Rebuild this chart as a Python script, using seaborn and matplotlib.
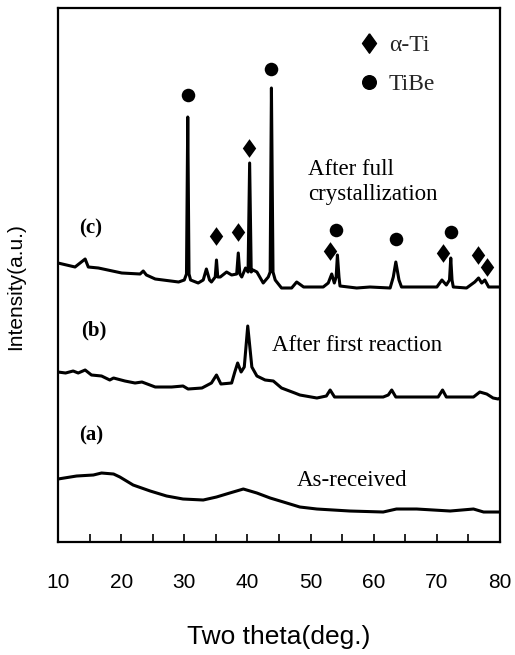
import numpy as np
import pandas as pd
import matplotlib
matplotlib.use("Agg")
import matplotlib.pyplot as plt
from matplotlib.lines import Line2D
import seaborn as sns

# ---- data (two theta in deg, intensity in arbitrary units) ----
c_theta = [10.0, 12.7, 14.3, 14.8, 16.4, 20.1, 23.0, 23.5, 24.0, 25.4, 29.1, 30.0,
           30.35, 30.55, 30.75, 31.0, 32.2, 33.0, 33.5, 34.0, 34.3, 34.9, 35.1, 35.3, 35.7,
           36.7, 37.5, 38.3, 38.55, 38.8, 39.1, 39.7, 40.1, 40.35, 40.6, 40.9, 41.5,
           42.5, 43.3, 43.6, 43.8, 44.05, 44.4, 45.4, 47.0, 47.8, 48.9, 52.0, 52.8,
           53.35, 53.76, 54.05, 54.25, 54.5, 54.66, 57.3, 59.4, 62.6, 63.1, 63.5, 64.0,
           64.4, 67.9, 70.0, 70.8, 71.5, 72.0, 72.2, 72.4, 72.6, 74.7, 76.0, 76.6,
           77.1, 77.6, 78.2, 79.5, 80.0]
c_int = [279, 275, 283, 275, 274, 269, 268, 271, 267, 263, 260, 262,
         268, 425, 268, 262, 259, 262, 273, 262, 260, 265, 282, 265, 265,
         270, 267, 268, 289, 268, 265, 274, 270, 379, 270, 272, 270,
         259, 265, 270, 454, 270, 262, 254, 254, 260, 255, 255, 259,
         268, 259, 265, 287, 265, 256, 254, 255, 254, 265, 280, 262,
         255, 255, 255, 262, 257, 262, 284, 262, 255, 254, 260, 264,
         259, 262, 255, 255, 255]

b_theta = [10.0, 11.2, 12.4, 13.2, 14.3, 15.3, 16.9, 18.2, 18.8, 20.6, 22.2, 23.3,
           25.4, 28.0, 29.8, 30.6, 32.8, 34.3, 35.1, 35.8, 37.5, 38.0, 38.45, 39.0,
           39.5, 40.05, 40.7, 41.5, 42.8, 44.1, 45.4, 47.5, 48.3, 51.0, 52.5, 53.1,
           53.8, 56.2, 61.5, 62.3, 62.85, 63.5, 66.8, 70.2, 70.9, 71.5, 73.7, 75.8,
           76.8, 77.9, 78.9, 79.7, 80.0]
b_int = [170, 169, 171, 169, 172, 167, 166, 162, 164, 161, 159, 160,
         155, 155, 156, 153, 154, 159, 167, 158, 159, 170, 179, 170,
         175, 216, 175, 166, 162, 161, 154, 149, 147, 144, 146, 152,
         145, 145, 145, 147, 152, 145, 145, 145, 152, 145, 145, 145,
         150, 148, 144, 143, 144]

a_theta = [10.0, 12.95, 15.6, 16.9, 18.8, 19.8, 21.9, 24.6, 27.2, 29.8, 33.0, 35.1,
           37.2, 39.35, 41.5, 43.6, 45.7, 48.3, 51.0, 56.2, 61.5, 63.6, 66.8, 72.1,
           75.8, 77.4, 79.7, 80.0]
a_int = [63, 66, 67, 69, 68, 65, 57, 51, 46, 43, 42, 45,
         49, 53, 49, 44, 40, 35, 33, 31, 30, 33, 33, 31,
         33, 30, 30, 30]

tibe_theta = [30.55, 43.8, 54.1, 63.5, 72.2]
tibe_int = [447, 473, 312, 303, 310]
ti_theta = [35.1, 38.5, 40.3, 53.0, 70.9, 76.5, 78.0]
ti_int = [306, 310, 394, 291, 289, 287, 275]

curve_labels = ["(a)", "(b)", "(c)"]
curve_notes = ["As-received", "After first reaction", "After full\ncrystallization"]
phase_names = ["\u03b1-Ti", "TiBe"]
x_ticks = [10, 20, 30, 40, 50, 60, 70, 80]

# ---- style ----
sns.set_theme(style="white")
plt.rcParams['font.family'] = ['Liberation Sans', 'DejaVu Sans']
serif = ['Liberation Serif', 'DejaVu Serif']

fig = plt.figure(figsize=(5.15, 6.55), dpi=100)
ax = fig.add_axes([0.1126, 0.1725, 0.8583, 0.8153])

for th, it in [(a_theta, a_int), (b_theta, b_int), (c_theta, c_int)]:
    df = pd.DataFrame({"theta": th, "I": it})
    sns.lineplot(data=df, x="theta", y="I", ax=ax, color="black", lw=2.2,
                 estimator=None, sort=False, legend=False)

diamond = [(0, 0.5), (0.36, 0), (0, -0.5), (-0.36, 0), (0, 0.5)]
sns.scatterplot(x=tibe_theta, y=tibe_int, ax=ax, marker="o", s=95,
                color="black", edgecolor="black", linewidth=0, legend=False)
sns.scatterplot(x=ti_theta, y=ti_int, ax=ax, marker=diamond, s=180,
                color="black", edgecolor="black", linewidth=0, legend=False)

handles = [Line2D([], [], ls="none", marker=diamond, markersize=14, color="black"),
           Line2D([], [], ls="none", marker="o", markersize=9.8, color="black")]
ax.legend(handles, phase_names, loc="upper left", bbox_to_anchor=(0.651, 0.9725),
          frameon=False, borderpad=0, handlelength=1.0, handletextpad=0.32,
          labelspacing=0.75, prop={"family": serif, "size": 17})

ax.set_xlim(10, 80)
ax.set_ylim(0, 534)
ax.set_xticks(x_ticks)
ax.set_xticks([15, 25, 35, 45, 55, 65, 75], minor=True)
ax.set_yticks([])
ax.tick_params(axis="x", which="both", direction="in", length=6, width=1.2,
               color="black", bottom=True, top=False, pad=22, labelsize=15,
               labelcolor="black")
for sp in ax.spines.values():
    sp.set_color("black")
    sp.set_linewidth(1.6)

ax.set_xlabel("Two theta(deg.)", fontsize=19, color="black")
ax.set_ylabel("Intensity(a.u.)", fontsize=15, color="black")
ax.xaxis.set_label_coords(0.5, -0.155)
ax.yaxis.set_label_coords(-0.075, 0.478)

# curve letters
for lab, (tx, ty) in zip(curve_labels, [(15.3, 107), (15.6, 212), (15.1, 314)]):
    ax.text(tx, ty, lab, family=serif, fontsize=15, fontweight="bold",
            ha="center", va="center", color="black")

for note, (tx, ty) in zip(curve_notes, [(47.8, 62), (43.9, 197), (49.6, 360)]):
    ax.text(tx, ty, note, family=serif, fontsize=16.5, ha="left", va="center",
            color="black", linespacing=1.3)

fig.savefig("out.png", dpi=100)
